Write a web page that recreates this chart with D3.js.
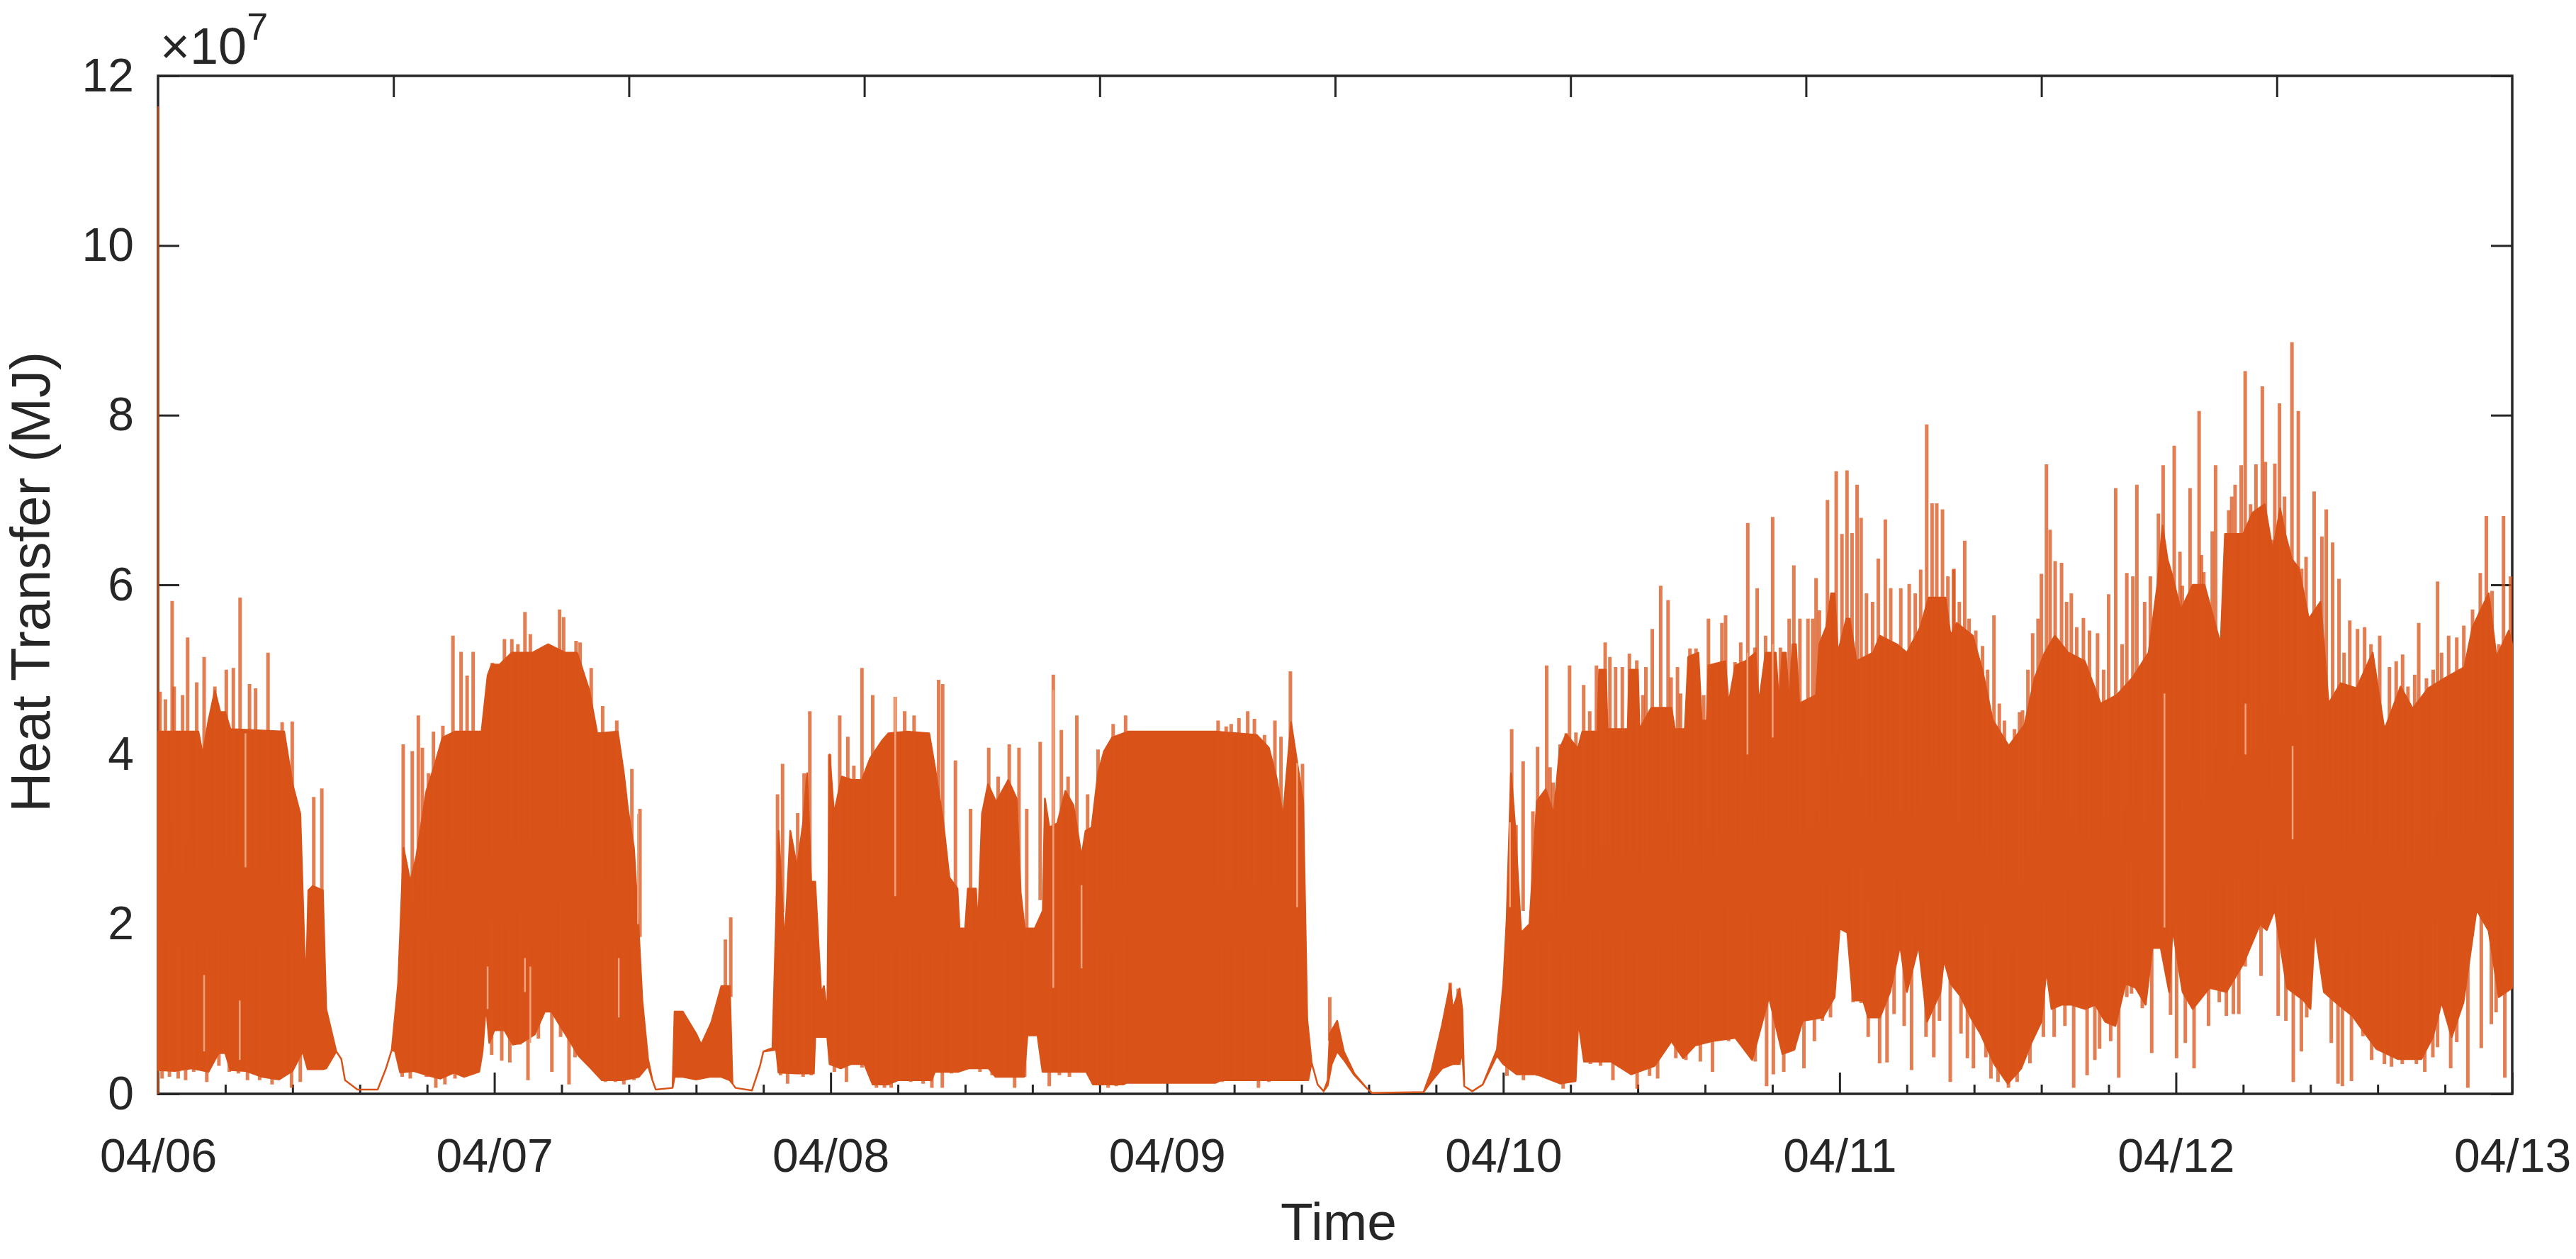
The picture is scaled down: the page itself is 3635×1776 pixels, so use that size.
<!DOCTYPE html>
<html><head><meta charset="utf-8">
<script src="https://cdn.jsdelivr.net/npm/d3@7"></script>
<style>html,body{margin:0;background:#fff}svg{display:block}text{font-family:"Liberation Sans",Arial,sans-serif;fill:#262626}</style>
</head><body><div id="chart"></div>
<script>
// x values are days since 04/06; y values are in units of 10^7 MJ
const dayLabels = ["04/06","04/07","04/08","04/09","04/10","04/11","04/12","04/13"];
const yTickValues = [0,2,4,6,8,10,12];
const minorDayTicks = [0.2,0.4,0.6,0.8,1.2,1.4,1.6,1.8,2.2,2.4,2.6,2.8,3.2,3.4,3.6,3.8,4.2,4.4,4.6,4.8,5.2,5.4,5.6,5.8,6.2,6.4,6.6,6.8];
const topTicks = [.7,1.4,2.1,2.8,3.5,4.2,4.9,5.6,6.3];

// Upper edge of the solid band, up to 04/10 04:00
const highTime = [0,.12,.133,.15,.169,.185,.2,.215,.375,.40,.423,.435,.44,.447,.46,.49,.50,.53,.545,.556,.593,.653,.677,.695,.714,.73,.75,.768,.798,.822,.846,.883,.962,.98,.992,1.016,1.052,1.09,1.113,1.16,1.21,1.246,1.282,1.306,1.367,1.385,1.397,1.415,1.427,1.44,1.457,1.47,1.48,1.53,1.536,1.56,1.60,1.615,1.645,1.675,1.70,1.708,1.717,1.766,1.79,1.80,1.827,1.837,1.845,1.863,1.87,1.88,1.90,1.918,1.93,1.942,1.954,1.966,1.972,1.98,1.99,1.997,2.01,2.033,2.063,2.093,2.117,2.154,2.172,2.226,2.293,2.311,2.335,2.353,2.377,2.383,2.4,2.408,2.432,2.438,2.45,2.468,2.492,2.528,2.553,2.565,2.577,2.607,2.631,2.637,2.65,2.674,2.698,2.722,2.746,2.758,2.776,2.795,2.813,2.837,2.885,3.145,3.267,3.303,3.327,3.345,3.369,3.387,3.405,3.417,3.43,3.448,3.466,3.478,3.484,3.506,3.526,3.557,3.593,3.61,3.763,3.787,3.818,3.842,3.85,3.87,3.878,3.884,3.908,3.939,3.981,4.0,4.01,4.023,4.035,4.053,4.078,4.10,4.126,4.15,4.168,4.187,4.222];
const highValue = [4.27,4.27,4.0,4.4,4.75,4.5,4.5,4.3,4.27,3.65,3.3,1.75,1.27,2.4,2.45,2.4,1.0,.5,.41,.16,.05,.05,.29,.52,1.3,2.9,2.5,2.8,3.57,3.87,4.2,4.27,4.27,4.93,5.06,5.06,5.2,5.2,5.2,5.3,5.2,5.2,4.76,4.25,4.27,3.78,3.36,2.9,2.1,1.1,.41,.16,.05,.07,.97,.97,.71,.58,.84,1.27,1.27,.12,.07,.04,.33,.5,.54,1.95,3.1,1.78,2.29,3.1,2.67,3.19,3.78,2.5,2.5,1.6,1.18,1.27,.93,4.0,3.3,3.74,3.7,3.7,3.95,4.17,4.25,4.27,4.25,3.83,3.2,2.55,2.42,1.95,1.95,2.42,2.42,1.95,3.3,3.65,3.44,3.7,3.48,2.37,1.95,1.95,2.16,3.48,3.14,3.19,3.57,3.4,2.8,3.1,3.14,3.78,4.04,4.2,4.27,4.27,4.23,4.08,3.7,3.27,4.38,3.91,3.44,.88,.37,.11,.03,.16,.71,.86,.5,.24,.07,.01,.02,.28,.81,1.29,1.0,1.24,1.0,.09,.03,.11,.52,1.29,2.05,3.78,3.16,1.9,2.0,3.45,3.59,3.3,4.07,4.24,4.07];
// Upper edge of the solid band, the rest of the week: [day, value]
const highEdgeLate = [[4.235,4.27],[4.28,4.27],[4.285,5.0],[4.305,5.0],[4.31,4.3],[4.37,4.3],[4.375,5.0],[4.40,5.0],[4.405,4.3],[4.44,4.55],[4.50,4.55],[4.51,4.3],[4.54,4.3],[4.55,5.15],[4.58,5.2],[4.59,4.4],[4.605,4.4],[4.61,5.05],[4.66,5.1],[4.67,4.6],[4.69,5.05],[4.72,5.1],[4.75,5.2],[4.76,4.6],[4.78,5.2],[4.81,5.2],[4.82,4.6],[4.83,5.2],[4.84,5.2],[4.85,4.6],[4.86,5.3],[4.87,5.3],[4.88,4.6],[4.93,4.7],[4.94,5.3],[4.96,5.5],[4.975,5.9],[4.985,5.9],[4.995,5.2],[5.02,5.6],[5.03,5.6],[5.05,5.1],[5.1,5.2],[5.12,5.4],[5.17,5.3],[5.2,5.2],[5.24,5.5],[5.265,5.85],[5.315,5.85],[5.33,5.4],[5.348,5.55],[5.396,5.4],[5.426,4.97],[5.455,4.41],[5.503,4.1],[5.55,4.35],[5.58,4.9],[5.61,5.2],[5.64,5.4],[5.68,5.2],[5.729,5.1],[5.776,4.6],[5.824,4.7],[5.87,4.9],[5.919,5.2],[5.945,6.0],[5.96,6.7],[5.975,6.3],[5.99,6.1],[6.014,5.7],[6.05,6.0],[6.085,6.0],[6.133,5.3],[6.146,6.6],[6.2,6.6],[6.228,6.85],[6.264,6.95],[6.288,6.4],[6.31,6.9],[6.325,6.6],[6.345,6.3],[6.365,6.2],[6.395,5.6],[6.43,5.8],[6.454,4.6],[6.49,4.84],[6.537,4.78],[6.585,5.2],[6.62,4.29],[6.668,4.8],[6.704,4.54],[6.75,4.78],[6.8,4.9],[6.858,5.03],[6.882,5.5],[6.93,5.9],[6.953,5.15],[6.99,5.46],[7,5.3]];

// Lower edge of the solid band, up to 04/11
const lowTime = [0,.05,.1,.15,.18,.2,.215,.26,.31,.36,.40,.43,.445,.49,.50,.53,.545,.556,.593,.653,.677,.695,.705,.72,.76,.80,.84,.88,.91,.955,.965,.975,.985,1.0,1.03,1.055,1.08,1.12,1.15,1.17,1.19,1.22,1.25,1.28,1.32,1.38,1.43,1.457,1.47,1.48,1.53,1.536,1.56,1.60,1.64,1.675,1.70,1.708,1.717,1.766,1.79,1.80,1.838,1.845,1.9,1.95,1.954,1.99,1.997,2.03,2.06,2.1,2.125,2.17,2.2,2.3,2.31,2.38,2.41,2.47,2.49,2.575,2.585,2.615,2.63,2.76,2.78,2.87,2.88,3.145,3.16,3.42,3.43,3.448,3.466,3.478,3.49,3.506,3.526,3.557,3.593,3.61,3.763,3.787,3.818,3.85,3.87,3.878,3.884,3.908,3.939,3.981,4.0,4.04,4.1,4.17,4.215,4.223,4.24,4.32,4.38,4.45,4.5,4.535,4.57,4.62,4.69,4.74,4.79,4.83,4.865,4.89,4.95,4.985];
const lowValue = [.28,.27,.3,.26,.48,.48,.28,.27,.2,.17,.27,.5,.29,.29,.3,.5,.41,.16,.05,.05,.29,.52,.5,.25,.27,.22,.18,.25,.2,.26,.5,1.05,.6,.75,.75,.58,.6,.7,.97,.97,.84,.65,.45,.33,.16,.16,.2,.33,.16,.05,.07,.2,.2,.17,.2,.2,.16,.12,.07,.04,.33,.5,.52,.25,.24,.24,.67,.67,.35,.3,.35,.35,.11,.11,.16,.16,.26,.26,.3,.3,.2,.2,.69,.69,.26,.26,.11,.11,.13,.13,.16,.16,.37,.11,.03,.1,.35,.5,.4,.22,.07,.01,.02,.15,.3,.35,.35,.5,.09,.03,.11,.45,.35,.23,.23,.12,.15,.86,.38,.38,.23,.33,.62,.42,.57,.62,.66,.4,1.14,.47,.52,.86,.9,1.14];
// Lower edge of the solid band, 04/11 to 04/13: [day, value]
const lowEdgeLate = [[5.0,1.95],[5.023,1.9],[5.04,1.1],[5.07,1.1],[5.085,.9],[5.12,.9],[5.15,1.2],[5.18,1.75],[5.2,1.2],[5.235,1.75],[5.26,.85],[5.3,1.2],[5.31,1.58],[5.33,1.3],[5.36,1.15],[5.39,.9],[5.42,.7],[5.46,.35],[5.5,.12],[5.54,.3],[5.57,.6],[5.6,.85],[5.615,1.46],[5.63,1.0],[5.66,1.05],[5.69,1.05],[5.73,1.0],[5.76,1.05],[5.79,.85],[5.82,.8],[5.85,1.3],[5.88,1.25],[5.91,1.05],[5.93,1.72],[5.955,1.72],[5.98,1.2],[5.99,1.95],[6.02,1.2],[6.05,1.0],[6.1,1.25],[6.15,1.2],[6.2,1.53],[6.25,2.0],[6.27,1.93],[6.294,2.17],[6.33,1.25],[6.38,1.1],[6.40,1.0],[6.413,1.95],[6.44,1.2],[6.483,1.05],[6.525,.92],[6.55,.78],[6.596,.53],[6.66,.41],[6.73,.41],[6.764,.67],[6.79,1.08],[6.82,.67],[6.855,1.08],[6.894,2.17],[6.93,1.92],[6.96,1.14],[7,1.25]];

// Individual peaks standing above the band
const spikeTime = [0,.006,.022,.042,.048,.073,.088,.115,.137,.169,.203,.224,.244,.272,.29,.327,.369,.399,.463,.487,.729,.756,.774,.786,.804,.819,.847,.877,.901,.919,.937,.994,1.03,1.052,1.07,1.091,1.107,1.194,1.206,1.243,1.255,1.288,1.322,1.364,1.409,1.433,1.687,1.703,1.842,1.857,1.902,1.921,1.938,1.997,2.027,2.051,2.069,2.093,2.125,2.192,2.22,2.248,2.321,2.333,2.371,2.416,2.47,2.498,2.531,2.56,2.583,2.623,2.662,2.686,2.706,2.732,2.764,2.795,2.84,2.877,3.152,3.176,3.191,3.214,3.24,3.26,3.29,3.321,3.339,3.367,3.385,3.403,3.484,3.842,3.866];
const spikeTop = [11.64,4.74,4.65,5.81,4.8,4.7,5.38,4.85,5.15,4.8,5.0,5.02,5.85,4.83,4.78,5.2,4.38,4.39,3.5,3.6,4.12,4.04,4.46,4.08,3.78,4.27,4.34,5.4,5.21,4.93,5.21,5.08,5.36,5.36,5.3,5.68,5.42,5.71,5.62,5.34,5.32,5.02,4.57,4.4,3.83,3.36,1.82,2.08,3.53,3.89,3.31,3.78,4.51,4.0,4.46,4.21,3.87,5.02,4.7,4.68,4.51,4.46,4.88,4.83,3.93,3.36,4.08,3.74,4.12,4.08,3.36,4.15,4.94,4.29,3.74,4.46,3.53,4.06,4.36,4.46,4.4,4.33,4.36,4.43,4.51,4.42,4.23,4.4,4.21,4.98,3.9,3.89,1.14,1.31,1.24];
const lateSpikes = [[4.025,4.3],[4.038,3.17],[4.059,3.92],[4.088,3.33],[4.102,4.09],[4.129,5.05],[4.139,3.85],[4.148,3.67],[4.169,4.12],[4.187,4.25],[4.197,5.05],[4.216,4.26],[4.239,4.82],[4.257,4.51],[4.277,5.05],[4.292,5.0],[4.303,5.32],[4.317,5.15],[4.334,5.03],[4.354,5.03],[4.375,5.19],[4.397,5.11],[4.415,4.7],[4.424,5.03],[4.443,5.48],[4.468,5.99],[4.49,5.82],[4.499,4.91],[4.518,5.03],[4.527,4.72],[4.555,5.25],[4.573,5.25],[4.596,4.7],[4.61,5.6],[4.633,5.07],[4.65,5.55],[4.661,5.64],[4.689,5.09],[4.706,5.32],[4.727,6.73],[4.748,5.26],[4.755,5.96],[4.78,5.4],[4.801,6.8],[4.824,5.26],[4.85,5.6],[4.864,6.23],[4.882,5.6],[4.906,5.6],[4.92,5.6],[4.93,6.08],[4.94,5.7],[4.964,7.0],[4.97,5.7],[4.99,7.34],[5.007,6.6],[5.022,7.35],[5.037,6.61],[5.052,7.18],[5.064,6.79],[5.08,5.9],[5.098,5.8],[5.115,6.31],[5.136,6.77],[5.152,5.96],[5.182,5.96],[5.207,6.01],[5.225,5.9],[5.241,6.18],[5.259,7.89],[5.275,6.96],[5.289,6.96],[5.306,6.89],[5.322,6.1],[5.339,6.18],[5.372,6.52],[5.34,6.19],[5.356,5.8],[5.385,5.6],[5.405,5.46],[5.425,5.28],[5.44,5.0],[5.459,5.64],[5.475,4.6],[5.49,4.4],[5.52,4.3],[5.535,4.5],[5.544,4.52],[5.56,5.0],[5.574,5.43],[5.59,5.6],[5.6,6.13],[5.615,7.42],[5.626,6.65],[5.641,6.28],[5.66,6.26],[5.675,5.8],[5.689,5.9],[5.705,5.5],[5.725,5.61],[5.743,5.46],[5.767,5.43],[5.785,5.0],[5.8,5.89],[5.821,7.14],[5.84,5.3],[5.854,6.14],[5.872,6.1],[5.884,7.18],[5.907,5.8],[5.924,6.1],[5.948,6.84],[5.962,7.41],[5.995,7.64],[6.012,6.39],[6.019,5.99],[6.042,7.14],[6.069,8.05],[6.076,6.35],[6.083,6.15],[6.108,6.63],[6.118,7.41],[6.157,6.88],[6.166,7.04],[6.176,7.18],[6.194,7.41],[6.206,8.52],[6.222,6.95],[6.238,7.42],[6.257,8.34],[6.266,7.45],[6.287,6.53],[6.294,7.43],[6.308,8.14],[6.323,7.04],[6.345,8.86],[6.364,8.05],[6.374,6.19],[6.387,6.33],[6.411,7.1],[6.434,6.57],[6.447,6.89],[6.466,6.5],[6.485,6.07],[6.5,5.2],[6.517,5.58],[6.54,5.48],[6.561,5.5],[6.58,5.3],[6.606,5.4],[6.635,5.03],[6.655,5.1],[6.674,5.18],[6.69,4.8],[6.71,4.94],[6.722,5.55],[6.745,4.9],[6.765,5.0],[6.778,6.04],[6.79,5.2],[6.811,5.4],[6.835,5.38],[6.856,5.52],[6.882,5.71],[6.905,6.14],[6.923,6.81],[6.94,5.93],[6.96,5.3],[6.974,6.81],[6.995,6.1]];

// Troughs reaching below the band, up to 04/11: [day, value]
const earlyDips = [[.012,.18],[.034,.2],[.06,.18],[.082,.16],[.106,.26],[.145,.14],[.181,.33],[.212,.26],[.239,.24],[.266,.16],[.302,.16],[.339,.11],[.377,.26],[.397,.07],[.423,.14],[.726,.2],[.75,.18],[.774,.26],[.798,.2],[.826,.07],[.853,.11],[.883,.18],[.907,.24],[.937,.26],[.992,.46],[1.022,.39],[1.046,.37],[1.076,.58],[1.1,.16],[1.131,.65],[1.171,.26],[1.197,.67],[1.222,.11],[1.24,.43],[1.27,.5],[1.294,.31],[1.33,.14],[1.36,.14],[1.385,.11],[1.415,.16],[1.851,.22],[1.872,.12],[1.894,.29],[1.918,.2],[1.942,.22],[2.011,.26],[2.047,.14],[2.093,.31],[2.136,.07],[2.16,.07],[2.18,.07],[2.208,.16],[2.238,.14],[2.275,.12],[2.301,.07],[2.332,.07],[2.359,.24],[2.414,.31],[2.444,.26],[2.48,.22],[2.517,.2],[2.547,.07],[2.577,.2],[2.65,.09],[2.68,.22],[2.71,.2],[2.746,.26],[2.795,.16],[2.825,.07],[2.849,.09],[2.873,.26],[3.164,.14],[3.2,.16],[3.236,.16],[3.272,.07],[3.303,.14],[3.339,.18],[3.375,.16],[4.011,.21],[4.03,.28],[4.06,.16],[4.102,.21],[4.138,.21],[4.178,.06],[4.21,.14],[4.259,.35],[4.289,.33],[4.326,.16],[4.356,.38],[4.398,.06],[4.435,.21],[4.459,.18],[4.513,.42],[4.543,.4],[4.586,.38],[4.622,.26],[4.67,.62],[4.725,.54],[4.749,.38],[4.783,.09],[4.803,.23],[4.834,.26],[4.864,.52],[4.894,.3],[4.925,.62],[4.949,.86],[4.973,.9]];
const lateDips = [[5.04,1.08],[5.064,1.07],[5.085,.67],[5.119,.36],[5.141,.37],[5.162,.94],[5.192,.8],[5.214,.28],[5.257,.67],[5.28,.43],[5.297,.86],[5.329,.14],[5.361,.71],[5.38,.42],[5.398,.3],[5.435,.43],[5.45,.18],[5.471,.14],[5.502,.07],[5.528,.14],[5.566,.36],[5.606,.67],[5.638,.67],[5.67,.8],[5.696,.07],[5.736,.22],[5.759,.4],[5.773,.53],[5.806,.62],[5.83,.19],[5.854,1.14],[5.868,1.18],[5.9,1.01],[5.928,.48],[5.984,.93],[6.002,.42],[6.028,.6],[6.054,.3],[6.097,.8],[6.129,1.08],[6.15,.92],[6.171,.94],[6.187,.94],[6.206,1.5],[6.253,1.39],[6.304,.92],[6.327,.86],[6.349,.14],[6.373,.5],[6.389,.9],[6.462,.6],[6.482,.12],[6.495,.09],[6.522,.15],[6.556,.68],[6.582,.4],[6.62,.35],[6.641,.32],[6.673,.35],[6.715,.35],[6.74,.26],[6.764,.43],[6.778,.55],[6.817,.3],[6.835,.61],[6.868,.07],[6.908,.54],[6.938,.82],[6.952,.96],[6.978,.19]];

// Pale streaks inside the band: day, from, to
const streakTime = [.26,.243,.137,.98,1.107,1.091,1.37,1.427,2.192,2.662,2.746,3.387,4.02,4.726,4.801,5.966,6.207,6.347];
const streakFrom = [2.67,.4,.5,1.0,.6,1.2,.9,2.0,2.33,1.25,1.48,2.2,2.2,4.0,4.2,1.96,4.0,3.0];
const streakTo = [4.25,1.1,1.4,1.5,1.5,1.6,1.6,3.3,4.68,4.76,2.46,3.9,3.2,5.2,5.3,4.72,4.6,4.1];

const W = 3635, H = 1776;
const m = {l:223, r:3545, t:107, b:1543};
const x = d3.scaleLinear().domain([0,7]).range([m.l,m.r]);
const y = d3.scaleLinear().domain([0,12]).range([m.b,m.t]);
const ORANGE = "#D95319", INK = "#262626";

const svg = d3.select("#chart").append("svg").attr("width",W).attr("height",H);

const line = d3.line().x(d=>x(d[0])).y(d=>y(d[1]));
const up = highTime.map((t,i)=>[t,highValue[i]]).concat(highEdgeLate);
const dn = lowTime.map((t,i)=>[t,lowValue[i]]).concat(lowEdgeLate).reverse();
const peaks = spikeTime.map((t,i)=>[t,spikeTop[i]]).concat(lateSpikes);
const troughs = earlyDips.concat(lateDips);
const marks = svg.append("g");

function axis(gen, tf){
  const g = svg.append("g").attr("transform",tf).call(gen);
  g.select(".domain").remove();
  g.selectAll(".tick line").attr("stroke",INK).attr("stroke-width",3);
  g.selectAll("text").attr("fill",INK).style("font-size","66px");
  return g;
}
const dayTicks = d3.range(8);
axis(d3.axisBottom(x).tickValues(dayTicks).tickSize(-30).tickFormat((d,i)=>dayLabels[i]),`translate(0,${m.b})`)
  .selectAll("text").attr("dy","0.71em").attr("y",63);
axis(d3.axisBottom(x).tickValues(minorDayTicks).tickSize(-13).tickFormat(""),`translate(0,${m.b})`);
axis(d3.axisTop(x).tickValues(topTicks).tickSize(-30).tickFormat(""),`translate(0,${m.t})`);
axis(d3.axisLeft(y).tickValues(yTickValues).tickSize(-30).tickPadding(34),`translate(${m.l},0)`);
axis(d3.axisRight(y).tickValues(yTickValues).tickSize(-30).tickFormat(""),`translate(${m.r},0)`);

svg.append("rect").attr("x",m.l).attr("y",m.t).attr("width",m.r-m.l).attr("height",m.b-m.t)
  .attr("fill","none").attr("stroke",INK).attr("stroke-width",3.5);

marks.raise();
marks.append("path").attr("d",line(up.concat(dn))+"Z")
  .attr("fill",ORANGE).attr("stroke",ORANGE).attr("stroke-width",2.5).attr("stroke-linejoin","round");

marks.selectAll(".spike").data(peaks).join("line").attr("class","spike")
  .attr("x1",d=>x(d[0])).attr("x2",d=>x(d[0]))
  .attr("y1",d=>y(d[1])).attr("y2",(d,i)=>i===0?y(0):y(d[1]*0.55))
  .attr("stroke",ORANGE).attr("stroke-width",(d,i)=>i===0?3:5).attr("stroke-opacity",.75);

marks.selectAll(".dip").data(troughs).join("line").attr("class","dip")
  .attr("x1",d=>x(d[0])).attr("x2",d=>x(d[0]))
  .attr("y1",d=>y(d[1])).attr("y2",d=>y(d[1]+1.6))
  .attr("stroke",ORANGE).attr("stroke-width",5).attr("stroke-opacity",.75);

marks.selectAll(".streak").data(streakTime).join("line").attr("class","streak")
  .attr("x1",d=>x(d)).attr("x2",d=>x(d))
  .attr("y1",(d,i)=>y(streakFrom[i])).attr("y2",(d,i)=>y(streakTo[i]))
  .attr("stroke","#F0A27C").attr("stroke-width",2.5);

// labels
svg.append("text").attr("x",(m.l+m.r)/2+5).attr("y",1749).attr("text-anchor","middle").style("font-size","75px").text("Time");
svg.append("text").attr("transform",`translate(70,${(m.t+m.b)/2-4}) rotate(-90)`).attr("text-anchor","middle").style("font-size","78px").text("Heat Transfer (MJ)");
const ex = svg.append("text").attr("x",226).attr("y",90).style("font-size","72px");
ex.append("tspan").text("×10");
ex.append("tspan").attr("dy",-34).style("font-size","54px").text("7");
</script></body></html>
